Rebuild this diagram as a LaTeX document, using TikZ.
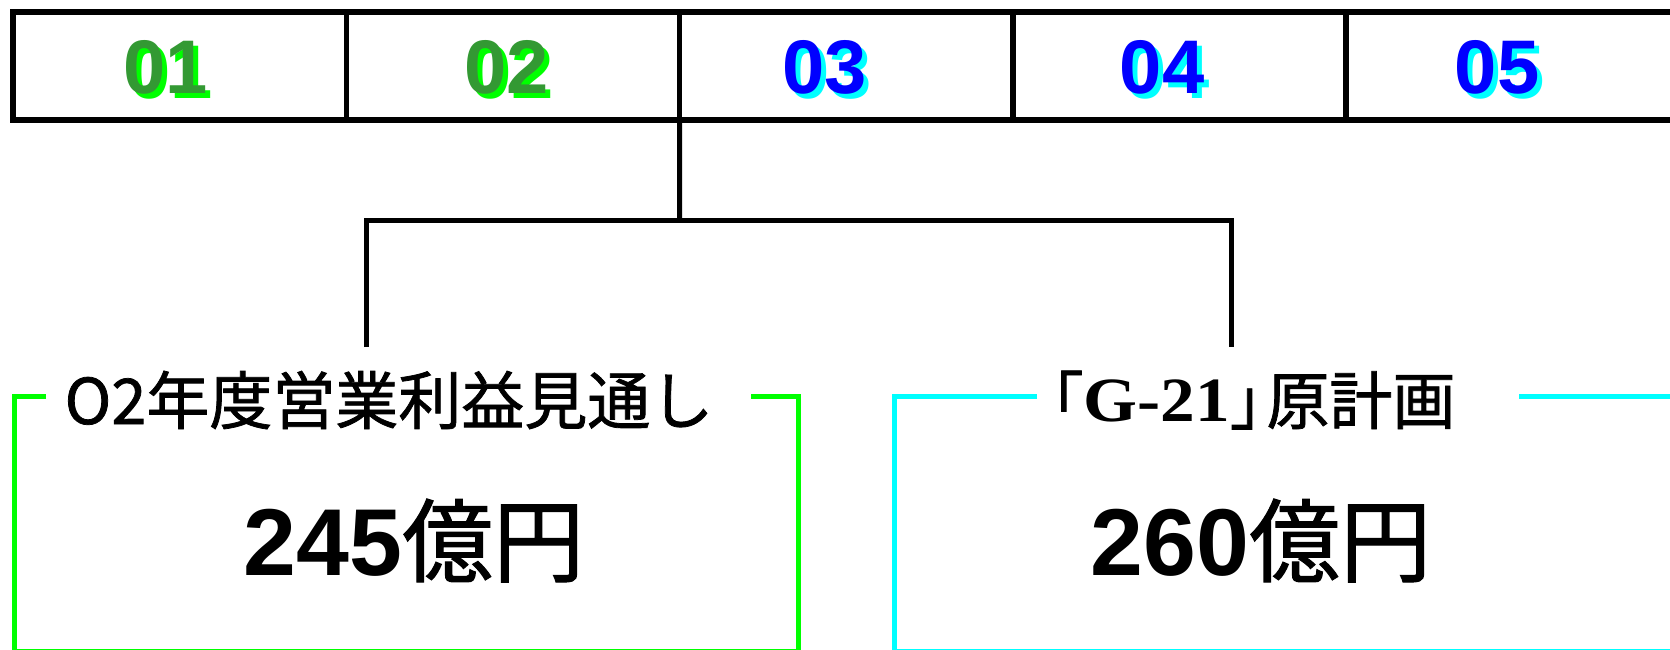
\documentclass[tikz,border=0pt]{standalone}
\usepackage{fontspec}
\newfontfamily\arial{Liberation Sans}
\newfontfamily\timesf{Liberation Serif}
\newfontfamily\jp{Noto Sans CJK JP}[FakeBold=1.2,AutoFakeBold=1.2]
\definecolor{dkgreen}{HTML}{339933}
\definecolor{ltgreen}{HTML}{00FF00}
\definecolor{myblue}{HTML}{0000FF}
\definecolor{mycyan}{HTML}{00FFFF}
\tikzset{
  cell/.style={draw=black, line width=5.5pt, minimum width=333.3pt, minimum height=108pt, inner sep=0pt, outer sep=0pt},
  num/.style={anchor=base, inner sep=0pt, font=\arial\bfseries\fontsize{76pt}{76pt}\selectfont},
  conn/.style={draw=black, line width=5pt},
  gframe/.style={draw=ltgreen, line width=5pt, line join=miter},
  cframe/.style={draw=mycyan, line width=5pt, line join=miter},
  title/.style={anchor=base, inner sep=0pt, font=\jp\fontsize{63pt}{63pt}\selectfont},
  big/.style={anchor=base, inner sep=0pt}
}
\begin{document}
\begin{tikzpicture}[x=1pt,y=-1pt]
\useasboundingbox (0,0) rectangle (1670,650);
\clip (0,0) rectangle (1670,650);
% top row of cells
\node[cell] (c1) at (179.6,66) {};
\node[cell] (c2) at (512.9,66) {};
\node[cell] (c3) at (846.2,66) {};
\node[cell] (c4) at (1179.5,66) {};
\node[cell] (c5) at (1512.8,66) {};
% digits with shadow
\node[num, text=ltgreen] (s1) at (171,99) {01};
\node[num, text=dkgreen] (t1) at (166,94) {01};
\node[num, text=ltgreen] (s2) at (512,99) {02};
\node[num, text=dkgreen] (t2) at (507,94) {02};
\node[num, text=mycyan] (s3) at (830,99) {03};
\node[num, text=myblue] (t3) at (825,94) {03};
\node[num, text=mycyan] (s4) at (1167,99) {04};
\node[num, text=myblue] (t4) at (1162,94) {04};
\node[num, text=mycyan] (s5) at (1502,99) {05};
\node[num, text=myblue] (t5) at (1497,94) {05};
% connectors
\coordinate (hub) at (679.5,220);
\coordinate (lt) at (366,347);
\coordinate (rt) at (1231,347);
\draw[conn] (c3.south west) -- (hub);
\draw[conn] (lt) |- (hub) -| (rt);
% green box
\coordinate (g1) at (46,396);
\coordinate (g2) at (14.5,396);
\coordinate (g3) at (14.5,651);
\coordinate (g4) at (798,651);
\coordinate (g5) at (798,396);
\coordinate (g6) at (751,396);
\draw[gframe] (g1) -- (g2) -- (g3) -- (g4) -- (g5) -- (g6);
\node[title] (gt) at (389,424) {O2年度営業利益見通し};
\node[big] (gv) at (414,575) {{\arial\bfseries\fontsize{95pt}{95pt}\selectfont 245}{\jp\fontsize{91pt}{91pt}\selectfont 億円}};
% cyan box
\coordinate (k1) at (1037,396);
\coordinate (k2) at (894.5,396);
\coordinate (k3) at (894.5,651);
\coordinate (k4) at (1700,651);
\coordinate (k5) at (1700,396);
\coordinate (k6) at (1519,396);
\draw[cframe] (k1) -- (k2) -- (k3) -- (k4) -- (k5) -- (k6);
\node[title] (ct) at (1238,424) {「\raisebox{3pt}{\scalebox{1.1}[1]{\timesf\bfseries\fontsize{63pt}{63pt}\selectfont G-21}}」\hspace{-0.42em}原計画};
\node[big] (cv) at (1261,575) {{\arial\bfseries\fontsize{95pt}{95pt}\selectfont 260}{\jp\fontsize{91pt}{91pt}\selectfont 億円}};
\end{tikzpicture}
\end{document}
